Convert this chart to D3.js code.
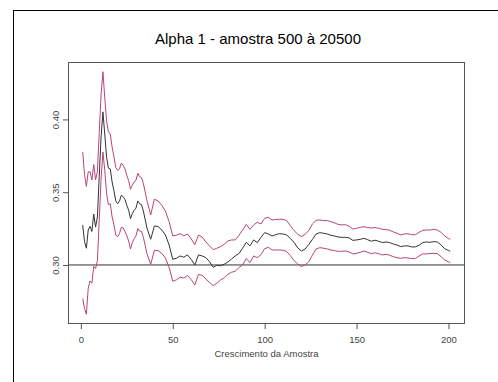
<!DOCTYPE html>
<html><head><meta charset="utf-8">
<script src="https://cdn.jsdelivr.net/npm/d3@7"></script>
<style>
html,body{margin:0;padding:0;background:#fff;}
svg{display:block;font-family:"Liberation Sans",Arial,sans-serif;}
</style></head>
<body>
<svg id="c" width="498" height="382"></svg>
<script>
const title = "Alpha 1 - amostra 500 à 20500";
const xLabel = "Crescimento da Amostra";
const xTicks = [0, 50, 100, 150, 200];
const yTicks = [0.30, 0.35, 0.40];
const refLine = 0.30;

// sample index (1..33 every step, then every 2nd step, and the last one)
const xs = d3.range(1, 34).concat(d3.range(34, 201, 2), [201]);

const center = [
0.3273,0.3160,0.3115,0.3240,0.3265,0.3230,0.3350,0.3260,0.3330,0.3610,
0.3880,0.4052,0.3900,0.3740,0.3665,0.3660,0.3570,0.3510,0.3440,0.3421,
0.3438,0.3479,0.3470,0.3450,0.3410,0.3376,0.3318,0.3353,0.3376,0.3391,
0.3440,0.3420,0.3415,
0.3371,0.3252,0.3177,0.3268,0.3264,0.3241,0.3206,0.3138,0.3039,0.3046,
0.3062,0.3053,0.3069,0.3039,0.3000,0.3069,
0.3062,0.3050,0.3023,0.2984,0.2998,0.2995,0.3005,0.3021,0.3041,0.3062,
0.3078,0.3115,0.3156,0.3131,0.3172,0.3153,0.3190,0.3222,0.3213,0.3199,
0.3208,0.3215,0.3213,0.3206,0.3181,0.3156,0.3117,0.3096,0.3110,0.3140,
0.3176,0.3213,0.3222,0.3218,0.3213,0.3204,0.3199,0.3192,0.3190,0.3190,
0.3186,0.3169,0.3172,0.3176,0.3183,0.3174,0.3163,0.3170,0.3163,0.3154,
0.3158,0.3154,0.3144,0.3137,0.3126,0.3131,0.3131,0.3124,0.3124,0.3135,
0.3154,0.3158,0.3156,0.3160,0.3158,0.3137,0.3112,0.3099,
0.3095];

const upper = [
0.3777,0.3620,0.3540,0.3640,0.3640,0.3585,0.3690,0.3585,0.3640,0.3910,
0.4170,0.4328,0.4150,0.3990,0.3915,0.3900,0.3810,0.3745,0.3670,0.3650,
0.3660,0.3700,0.3685,0.3660,0.3615,0.3580,0.3520,0.3550,0.3570,0.3582,
0.3630,0.3607,0.3600,
0.3561,0.3440,0.3344,0.3452,0.3440,0.3410,0.3370,0.3298,0.3200,0.3205,
0.3215,0.3200,0.3213,0.3180,0.3140,0.3205,
0.3192,0.3158,0.3131,0.3105,0.3115,0.3126,0.3142,0.3165,0.3172,0.3172,
0.3204,0.3240,0.3279,0.3245,0.3275,0.3293,0.3282,0.3321,0.3328,0.3309,
0.3312,0.3314,0.3314,0.3305,0.3270,0.3236,0.3211,0.3195,0.3211,0.3236,
0.3282,0.3307,0.3309,0.3305,0.3305,0.3298,0.3289,0.3279,0.3275,0.3277,
0.3266,0.3247,0.3252,0.3259,0.3263,0.3257,0.3254,0.3257,0.3252,0.3245,
0.3243,0.3238,0.3227,0.3218,0.3206,0.3213,0.3215,0.3208,0.3208,0.3224,
0.3238,0.3240,0.3240,0.3245,0.3240,0.3224,0.3199,0.3181,
0.3177];

const lower = [
0.2769,0.2700,0.2661,0.2840,0.2890,0.2875,0.2990,0.2975,0.3030,0.3310,
0.3590,0.3776,0.3650,0.3490,0.3415,0.3420,0.3330,0.3275,0.3205,0.3195,
0.3215,0.3258,0.3255,0.3230,0.3200,0.3165,0.3110,0.3155,0.3180,0.3200,
0.3250,0.3233,0.3230,
0.3190,0.3076,0.3005,0.3100,0.3099,0.3080,0.3048,0.2984,0.2888,0.2898,
0.2916,0.2910,0.2928,0.2900,0.2863,0.2935,
0.2929,0.2904,0.2879,0.2858,0.2874,0.2897,0.2911,0.2936,0.2950,0.2957,
0.2982,0.3000,0.3044,0.3016,0.3062,0.3050,0.3071,0.3112,0.3121,0.3103,
0.3103,0.3103,0.3101,0.3092,0.3064,0.3030,0.3007,0.2989,0.3000,0.3023,
0.3067,0.3110,0.3119,0.3115,0.3110,0.3103,0.3099,0.3094,0.3094,0.3096,
0.3089,0.3076,0.3080,0.3087,0.3096,0.3087,0.3078,0.3083,0.3078,0.3069,
0.3073,0.3067,0.3057,0.3050,0.3046,0.3050,0.3048,0.3044,0.3044,0.3062,
0.3076,0.3076,0.3078,0.3080,0.3078,0.3057,0.3034,0.3021,
0.3017];

const svg = d3.select("#c");
const box = {left: 68, right: 465, top: 62, bottom: 324};

// R-style 4% padding on the data range
function padded(ext){ const d = (ext[1]-ext[0])*0.04; return [ext[0]-d, ext[1]+d]; }
const xDom = padded(d3.extent(xs));
const yDom = padded([d3.min(lower), d3.max(upper)]);

const x = d3.scaleLinear().domain(xDom).range([box.left, box.right]);
const y = d3.scaleLinear().domain(yDom).range([box.bottom, box.top]);

// outer frame lines of the screenshot
svg.append("line").attr("x1",13.5).attr("x2",13.5).attr("y1",10).attr("y2",382)
  .attr("stroke","#000").attr("stroke-width",1);
svg.append("line").attr("x1",13).attr("x2",498).attr("y1",10.5).attr("y2",10.5)
  .attr("stroke","#000").attr("stroke-width",1);

svg.append("defs").append("clipPath").attr("id","pc")
  .append("rect").attr("x",box.left).attr("y",box.top)
  .attr("width",box.right-box.left).attr("height",box.bottom-box.top);

const line = d3.line().x((d,i)=>x(xs[i])).y(d=>y(d));
const g = svg.append("g").attr("clip-path","url(#pc)");

g.append("line").attr("x1",box.left).attr("x2",box.right)
  .attr("y1",y(refLine)).attr("y2",y(refLine))
  .attr("stroke","#333").attr("stroke-width",1);

[[upper,"#B8447A"],[lower,"#B8447A"],[center,"#333"]].forEach(([s,c])=>{
  g.append("path").datum(s).attr("d",line).attr("fill","none")
    .attr("stroke",c).attr("stroke-width",1).attr("stroke-linejoin","round");
});

// box
svg.append("rect").attr("x",box.left+0.5).attr("y",box.top+0.5)
  .attr("width",box.right-box.left-1).attr("height",box.bottom-box.top-1)
  .attr("fill","none").attr("stroke","#555").attr("stroke-width",1);

// x axis
const xa = svg.append("g").attr("transform",`translate(0,${box.bottom})`)
  .call(d3.axisBottom(x).tickValues(xTicks).tickSize(5).tickPadding(7).tickFormat(d3.format("d")));
xa.select(".domain").remove();
xa.selectAll("line").attr("stroke","#555");
xa.selectAll("text").attr("font-size",9.5).attr("fill","#444")
  .attr("font-family","Liberation Sans, Arial, sans-serif");

// y axis
const ya = svg.append("g").attr("transform",`translate(${box.left},0)`)
  .call(d3.axisLeft(y).tickValues(yTicks).tickSize(5).tickFormat(d3.format(".2f")));
ya.select(".domain").remove();
ya.selectAll("line").attr("stroke","#555");
ya.selectAll("text").remove();
ya.selectAll(".tick").append("text")
  .attr("transform","translate(-9.5,0) rotate(-90)")
  .attr("text-anchor","middle").attr("dy","0")
  .attr("font-size",9.5).attr("fill","#444")
  .attr("font-family","Liberation Sans, Arial, sans-serif")
  .text(d=>d3.format(".2f")(d));

svg.append("text").attr("x",(box.left+box.right)/2).attr("y",357)
  .attr("text-anchor","middle").attr("font-size",9.5).attr("fill","#444")
  .text(xLabel);

svg.append("text").attr("x",258).attr("y",44)
  .attr("text-anchor","middle").attr("font-size",15).attr("fill","#000")
  .text(title);
</script>
</body></html>
